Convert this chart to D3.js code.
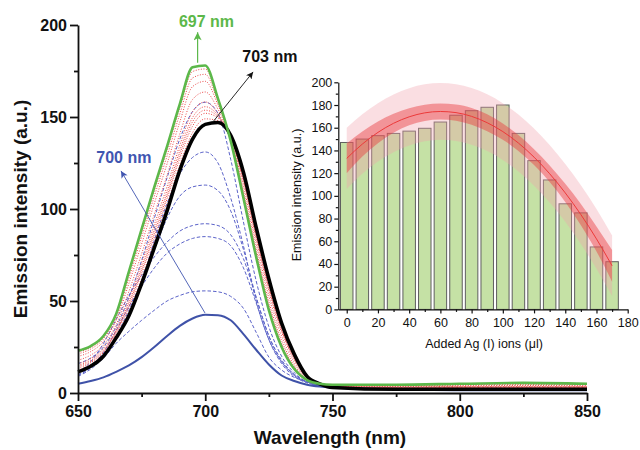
<!DOCTYPE html>
<html>
<head>
<meta charset="utf-8">
<script src="https://cdn.jsdelivr.net/npm/d3@7"></script>
<style>
  body { margin: 0; background: #fff; }
  svg { display: block; font-family: "Liberation Sans", Arial, sans-serif; }
</style>
</head>
<body>
<svg id="chart" width="640" height="450"></svg>
<script>
// ---- main spectra (emission intensity vs wavelength) ----
var wavelengths = [650, 655, 660, 665, 670, 675, 680, 685, 690, 695, 700, 705, 710, 715, 720, 725, 730, 735, 740, 745, 750, 775, 800, 825, 850];

var green697 = [23, 25.5, 31, 43, 66, 89, 112, 134, 157, 177, 178, 160, 137, 106, 74, 45, 25, 13, 7, 5, 4.5, 4.5, 5, 5.5, 5];
var black703 = [11.5, 14.5, 20, 30, 42, 59.5, 79, 99, 121, 138, 146, 147, 140, 120, 90, 62, 38, 21, 9, 5, 3, 2, 2, 2, 2];
var blue700 = [5, 6.5, 8.5, 11.5, 15, 19.5, 25, 31, 36.5, 40.5, 42.5, 42.3, 39.5, 32, 23.5, 15.5, 9.5, 6.5, 4.5, 3.5, 3, 2, 1.5, 1.5, 1.5];

var redDotted = [
  [12.5, 15.5, 21, 31, 44, 62, 82, 102, 124, 141.5, 149, 148, 140, 119, 88.5, 60.5, 37, 20, 9, 5, 3, 2.5, 2.8, 2.8, 2.8],
  [13.5, 16.5, 22, 32.5, 46.5, 65, 85, 105.5, 127.5, 145, 152, 149.5, 139.5, 117.5, 87, 59, 35.5, 19.5, 8.5, 5, 3.2, 2.8, 3, 3, 3],
  [14.3, 17.1, 22.6, 33.1, 47.8, 66.6, 86.9, 107.4, 129.6, 147.4, 153.7, 150.1, 139.3, 116.6, 86.2, 57.9, 34.9, 19.1, 8.5, 5, 3.2, 3, 3.2, 3.3, 3.2],
  [15, 17.8, 23.3, 33.9, 49.2, 68.4, 88.9, 109.5, 131.8, 149.7, 155.6, 150.9, 139.1, 115.8, 85.2, 56.9, 34.1, 18.6, 8.4, 5, 3.3, 3.2, 3.4, 3.5, 3.4],
  [15.9, 18.7, 24.2, 34.9, 51.1, 70.7, 91.5, 112.3, 134.7, 152.8, 158.2, 151.9, 138.9, 114.7, 83.9, 55.5, 33.1, 18, 8.2, 5, 3.4, 3.4, 3.6, 3.8, 3.6],
  [17.8, 20.6, 26, 37.2, 55.2, 75.7, 97.2, 118.3, 140.8, 159.5, 163.6, 154.2, 138.4, 112.3, 81.2, 52.7, 30.9, 16.6, 7.9, 5, 3.6, 3.6, 3.9, 4.1, 3.9],
  [19.9, 22.5, 28, 39.5, 59.5, 81, 103.1, 124.6, 147.3, 166.5, 169.4, 156.5, 137.8, 109.8, 78.3, 49.6, 28.5, 15.2, 7.5, 5, 3.7, 3.9, 4.3, 4.6, 4.3],
  [21.3, 23.9, 29.4, 41, 62.4, 84.6, 107, 128.8, 151.6, 171.2, 173.2, 158.1, 137.5, 108.1, 76.4, 47.6, 27, 14.2, 7.3, 5, 3.9, 4.1, 4.6, 5, 4.6],
  [22.3, 24.8, 30.3, 42.2, 64.6, 87.2, 110, 131.9, 154.8, 174.7, 176.1, 159.2, 137.2, 106.8, 75, 46, 25.8, 13.5, 7.1, 5, 3.9, 4.3, 4.8, 5.3, 4.8]
];

var blueDashed = [
  [16, 19, 25, 36, 52, 72, 95, 117, 138, 153, 158, 152, 127, 93, 61, 36, 20, 11, 6, 4.5, 3.5, 2.5, 2.5, 2.5, 2.5],
  [11, 15, 21, 30, 43, 60, 83, 103, 119, 128, 131, 125, 106, 80, 50, 29, 16, 9, 5.5, 4, 3.5, 2.5, 2.3, 2.3, 2.3],
  [10, 14, 21, 31, 45, 61, 78, 95, 107, 112, 113, 110, 99, 78, 52, 31, 17, 10, 6, 4, 3.3, 2.3, 2, 2, 2],
  [11, 17, 27, 40, 53, 64, 74, 82, 88, 91, 92, 91, 86, 73, 52, 31, 18, 10, 6, 4, 3.2, 2.2, 2, 2, 2],
  [9.5, 14, 22, 34, 47, 58, 68, 76, 81, 84, 85, 84, 80, 68, 49, 29, 17, 9.5, 6, 4, 3, 2, 1.8, 1.8, 1.8],
  [9, 13, 19, 27, 33.5, 39.5, 45, 50, 53, 55, 55.5, 55, 52.5, 46, 33, 19.5, 12.5, 8.5, 6, 4.5, 3.5, 2.5, 2, 2, 2]
];

var mainXTicks = [650, 700, 750, 800, 850];
var mainXMinor = [675, 725, 775, 825];
var mainYTicks = [0, 50, 100, 150, 200];
var mainYMinor = [25, 75, 125, 175];

// ---- inset (bar chart + quadratic fit with bands) ----
var agVolume = [0, 10, 20, 30, 40, 50, 60, 70, 80, 90, 100, 110, 120, 130, 140, 150, 160, 170];
var barIntensity = [147, 150, 153, 155, 157, 159.5, 165, 171, 175, 178, 180, 155, 131, 114, 93, 85, 55, 42];
var fitValues = [133, 145.6, 155.9, 163.9, 169.6, 173.1, 174.3, 173.3, 170, 164.4, 156.6, 146.5, 134.1, 119.5, 102.6, 83.5, 62.1, 38.4];
var confUpper = [146, 156.6, 165.4, 172.2, 177.1, 180.2, 181.3, 180.5, 177.4, 171.8, 163.8, 153.5, 141.1, 126.8, 110.6, 92.8, 73.1, 52.4];
var confLower = [120, 134.6, 146.4, 155.6, 162.1, 166, 167.3, 166.1, 162.6, 157, 149.4, 139.5, 127.1, 112.2, 94.6, 74.2, 51.1, 24.4];
var predUpper = [160, 171.8, 181.6, 189.3, 194.8, 198.2, 199.3, 198.3, 195, 189.4, 181.6, 171.6, 159.3, 144.8, 128, 109.3, 88.4, 65];
var predLower = [106, 119.4, 130.2, 138.5, 144.4, 148, 149.3, 148.3, 145, 139.4, 131.6, 121.4, 108.9, 94.2, 77.2, 57.7, 35.8, 11.8];

var insetXTicks = [0, 20, 40, 60, 80, 100, 120, 140, 160, 180];
var insetXMinor = [10, 30, 50, 70, 90, 110, 130, 150, 170];
var insetYTicks = [0, 20, 40, 60, 80, 100, 120, 140, 160, 180, 200];
var insetYMinor = [10, 30, 50, 70, 90, 110, 130, 150, 170, 190];

var svg = d3.select("#chart");

var x = d3.scaleLinear().domain([650, 850]).range([78, 587]);
var y = d3.scaleLinear().domain([0, 200]).range([393, 25]);

// arrow heads
var defs = svg.append("defs");
function addMarker(id, color, len, wid) {
  defs.append("marker")
    .attr("id", id)
    .attr("markerUnits", "userSpaceOnUse")
    .attr("viewBox", "0 0 10 10")
    .attr("refX", 10).attr("refY", 5)
    .attr("markerWidth", len).attr("markerHeight", wid)
    .attr("orient", "auto")
    .append("path").attr("d", "M0,0 L10,5 L0,10 L2.5,5 z").attr("fill", color);
}
addMarker("arrGreen", "#5cb84a", 10, 8);
addMarker("arrBlack", "#111", 9, 7);
addMarker("arrBlue", "#4055b0", 9, 7);

var line = d3.line()
  .x(function(d, i) { return x(wavelengths[i]); })
  .y(function(d) { return y(d); })
  .curve(d3.curveMonotoneX);

function drawCurve(vals, color, width, dash) {
  svg.append("path").datum(vals)
    .attr("d", line)
    .attr("fill", "none")
    .attr("stroke", color)
    .attr("stroke-width", width)
    .attr("stroke-dasharray", dash || null)
    .attr("stroke-linejoin", "round");
}

blueDashed.forEach(function(c) { drawCurve(c, "#5b63c9", 1, "3.5,2"); });
redDotted.forEach(function(c) { drawCurve(c, "#ec4a4a", 1, "1,1.6"); });
drawCurve(blue700, "#3f52a8", 2);
drawCurve(black703, "#000", 3.6);
drawCurve(green697, "#5cb84a", 2.6);

// main axes
function styleAxis(g, size, weight, width) {
  g.selectAll("path, line").attr("stroke", "#111").attr("stroke-width", width);
  g.selectAll("text").attr("fill", "#111").attr("font-size", size).attr("font-weight", weight)
    .attr("font-family", "Liberation Sans, Arial, sans-serif");
}

var gx = svg.append("g").attr("transform", "translate(0,393)")
  .call(d3.axisBottom(x).tickValues(mainXTicks).tickSize(8).tickPadding(5).tickSizeOuter(0));
styleAxis(gx, "16px", "bold", 1.8);
var gxm = svg.append("g").attr("transform", "translate(0,393)")
  .call(d3.axisBottom(x).tickValues(mainXMinor).tickSize(4).tickFormat(""));
gxm.select(".domain").remove();
styleAxis(gxm, "16px", "bold", 1.8);

var gy = svg.append("g").attr("transform", "translate(78,0)")
  .call(d3.axisLeft(y).tickValues(mainYTicks).tickSize(8).tickPadding(3).tickSizeOuter(0));
styleAxis(gy, "16px", "bold", 1.8);
var gym = svg.append("g").attr("transform", "translate(78,0)")
  .call(d3.axisLeft(y).tickValues(mainYMinor).tickSize(4).tickFormat(""));
gym.select(".domain").remove();
styleAxis(gym, "16px", "bold", 1.8);

svg.append("text").attr("x", 330).attr("y", 444).attr("text-anchor", "middle")
  .attr("font-size", "19px").attr("font-weight", "bold").attr("fill", "#111")
  .text("Wavelength (nm)");
svg.append("text").attr("transform", "translate(27,209) rotate(-90)").attr("text-anchor", "middle")
  .attr("font-size", "19px").attr("font-weight", "bold").attr("fill", "#111")
  .text("Emission intensity (a.u.)");

// annotations
svg.append("line")
  .attr("x1", x(697)).attr("y1", y(179.5)).attr("x2", x(697)).attr("y2", y(196))
  .attr("stroke", "#5cb84a").attr("stroke-width", 1.2).attr("marker-end", "url(#arrGreen)");
svg.append("text").attr("x", x(700.5)).attr("y", y(199)).attr("text-anchor", "middle")
  .attr("font-size", "16px").attr("font-weight", "bold").attr("fill", "#5cb84a").text("697 nm");

svg.append("line")
  .attr("x1", x(703)).attr("y1", y(147.3)).attr("x2", x(718.8)).attr("y2", y(174.5))
  .attr("stroke", "#111").attr("stroke-width", 0.9).attr("marker-end", "url(#arrBlack)");
svg.append("text").attr("x", x(725.4)).attr("y", y(180)).attr("text-anchor", "middle")
  .attr("font-size", "16px").attr("font-weight", "bold").attr("fill", "#111").text("703 nm");

svg.append("line")
  .attr("x1", x(699.9)).attr("y1", y(43.5)).attr("x2", x(666.9)).attr("y2", y(120.7))
  .attr("stroke", "#4055b0").attr("stroke-width", 0.9).attr("marker-end", "url(#arrBlue)");
svg.append("text").attr("x", x(668)).attr("y", y(125)).attr("text-anchor", "middle")
  .attr("font-size", "16px").attr("font-weight", "bold").attr("fill", "#4055b0").text("700 nm");

// ---- inset ----
var ix = d3.scaleLinear().domain([-5.4, 180]).range([338.3, 627.7]);
var iy = d3.scaleLinear().domain([0, 200]).range([309.4, 82.3]);
var barW = ix(8) - ix(0);

var inset = svg.append("g");
inset.selectAll("rect.bar")
  .data(barIntensity)
  .enter().append("rect")
  .attr("class", "bar")
  .attr("x", function(d, i) { return ix(agVolume[i]) - barW / 2; })
  .attr("y", function(d) { return iy(d); })
  .attr("width", barW)
  .attr("height", function(d) { return iy(0) - iy(d); })
  .attr("fill", "#c5e1a5")
  .attr("stroke", "#5e5e5e")
  .attr("stroke-width", 1);

var band = function(lo, hi) {
  return d3.area()
    .x(function(d, i) { return ix(agVolume[i]); })
    .y0(function(d, i) { return iy(lo[i]); })
    .y1(function(d, i) { return iy(hi[i]); })
    .curve(d3.curveMonotoneX);
};
inset.append("path").datum(agVolume).attr("d", band(predLower, predUpper))
  .attr("fill", "#f2a0ab").attr("opacity", 0.35);
inset.append("path").datum(agVolume).attr("d", band(confLower, confUpper))
  .attr("fill", "#e8393e").attr("opacity", 0.45);
inset.append("path").datum(fitValues)
  .attr("d", d3.line().x(function(d, i) { return ix(agVolume[i]); }).y(function(d) { return iy(d); }).curve(d3.curveMonotoneX))
  .attr("fill", "none").attr("stroke", "#ec3a3a").attr("stroke-width", 1);

var igx = inset.append("g").attr("transform", "translate(0," + iy(0) + ")")
  .call(d3.axisBottom(ix).tickValues(insetXTicks).tickSize(4).tickPadding(4.5).tickSizeOuter(0));
styleAxis(igx, "12.5px", "normal", 1.2);
var igxm = inset.append("g").attr("transform", "translate(0," + iy(0) + ")")
  .call(d3.axisBottom(ix).tickValues(insetXMinor).tickSize(2.5).tickFormat(""));
igxm.select(".domain").remove();
styleAxis(igxm, "12.5px", "normal", 1.2);

var igy = inset.append("g").attr("transform", "translate(" + ix(-5.4) + ",0)")
  .call(d3.axisLeft(iy).tickValues(insetYTicks).tickSize(4).tickPadding(2).tickSizeOuter(0));
styleAxis(igy, "12.5px", "normal", 1.2);
var igym = inset.append("g").attr("transform", "translate(" + ix(-5.4) + ",0)")
  .call(d3.axisLeft(iy).tickValues(insetYMinor).tickSize(2.5).tickFormat(""));
igym.select(".domain").remove();
styleAxis(igym, "12.5px", "normal", 1.2);

inset.append("text").attr("x", 484).attr("y", 347.5).attr("text-anchor", "middle")
  .attr("font-size", "12.5px").attr("fill", "#111").text("Added Ag (I) ions (\u03bcl)");
inset.append("text").attr("transform", "translate(301,195) rotate(-90)").attr("text-anchor", "middle")
  .attr("font-size", "12.5px").attr("fill", "#111").text("Emission intensity (a.u.)");
</script>
</body>
</html>
